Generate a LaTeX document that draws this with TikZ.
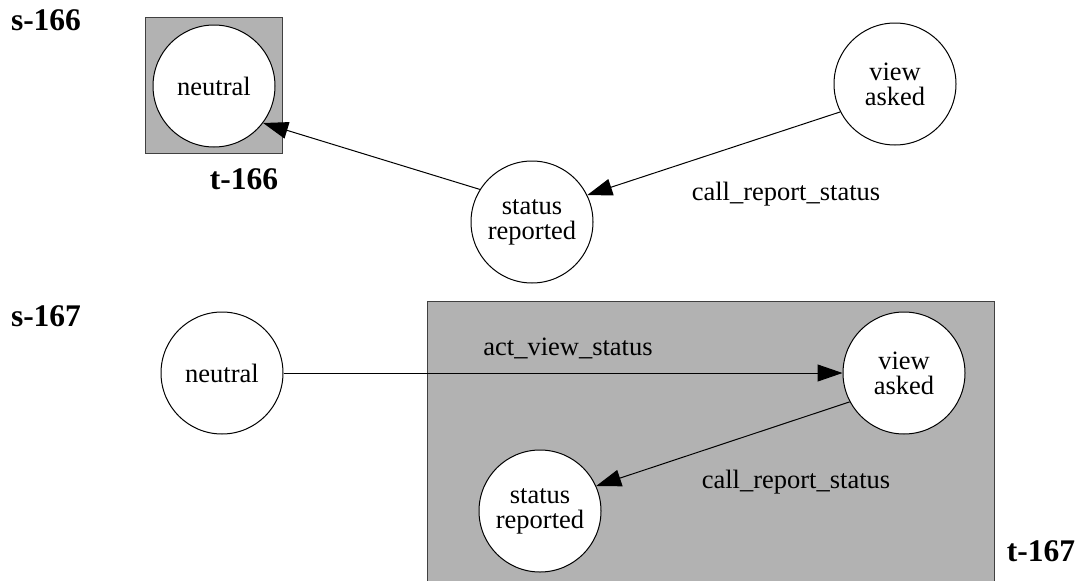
\documentclass[tikz,border=0pt]{standalone}
\usepackage{fontspec}
\setmainfont{Liberation Serif}
\usetikzlibrary{arrows.meta}

\begin{document}
\begin{tikzpicture}[x=1pt, y=-1pt,
    state/.style={circle, draw, fill=white, line width=1pt, minimum size=122pt, inner sep=0pt, align=center, font=\fontsize{26.5}{25}\selectfont},
    lbl/.style={font=\fontsize{26.5}{25}\selectfont},
    title/.style={font=\fontsize{31.5}{32}\selectfont\bfseries},
    box/.style={fill=black!30, draw=black!75, line width=1pt},
    edge/.style={line width=1pt, -{Triangle[length=25pt, width=17pt]}}]
    \useasboundingbox (0,0) rectangle (1082,581);

    % Define the gray boxes
    \filldraw[box] (145,17) rectangle (282,153);
    \filldraw[box] (427,301) rectangle (994,590);

    % Define states of s-166
    \node[state] (neutralA) at (214,86) {neutral};
    \node[state] (viewA) at (895,84) {view\\asked};
    \node[state] (statusA) at (532,222) {status\\reported};

    % Define states of s-167
    \node[state] (neutralB) at (222,373) {neutral};
    \node[state] (viewB) at (904,373) {view\\asked};
    \node[state] (statusB) at (540,511) {status\\reported};

    % Titles
    \node[title] (sA) at (46,20) {s-166};
    \node[title] (tA) at (244,179) {t-166};
    \node[title] (sB) at (46,316) {s-167};
    \node[title] (tB) at (1041,551) {t-167};

    % Edge labels
    \node[lbl] (callA) at (786,194) {call\_report\_status};
    \node[lbl] (actB) at (568,348) {act\_view\_status};
    \node[lbl] (callB) at (796,482) {call\_report\_status};

    % Draw edges
    \draw[edge] (statusA.148) -- (neutralA.-37);
    \draw[edge] (viewA.207) -- (statusA.26);
    \draw[edge] (neutralB) -- (viewB);
    \draw[edge] (viewB.208) -- (statusB.24);
\end{tikzpicture}
\end{document}
